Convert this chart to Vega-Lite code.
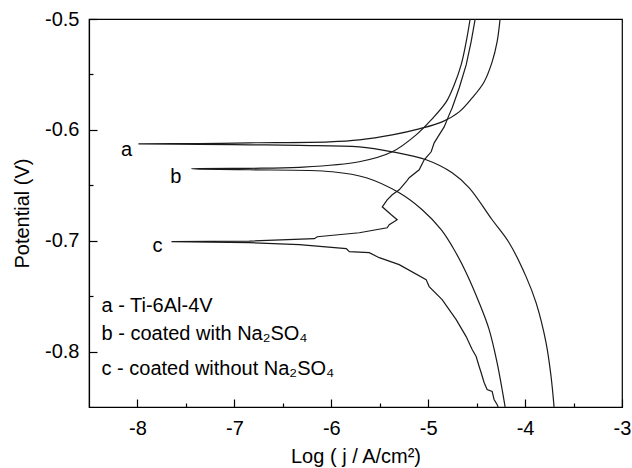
{
  "$schema": "https://vega.github.io/schema/vega-lite/v6.json",
  "width": 533,
  "height": 388,
  "autosize": {"type": "none"},
  "padding": {"left": 89, "top": 19, "right": 10, "bottom": 61},
  "background": "white",
  "config": {
    "view": {"stroke": "black", "strokeWidth": 1.2},
    "font": "Liberation Sans",
    "axis": {
      "domainColor": "black",
      "domainWidth": 1.2,
      "tickColor": "black",
      "tickWidth": 1.2,
      "labelColor": "black",
      "labelFont": "Liberation Sans",
      "labelFontSize": 20,
      "titleFont": "Liberation Sans",
      "titleFontSize": 20,
      "titleFontWeight": "normal",
      "titleColor": "black",
      "grid": false,
      "labelFlush": false,
      "labelOverlap": false
    }
  },
  "datasets": {
    "ab": [
      {"s": "a", "i": 1, "x": -3.701, "y": -0.85},
      {"s": "a", "i": 2, "x": -3.732, "y": -0.8225},
      {"s": "a", "i": 3, "x": -3.784, "y": -0.7919},
      {"s": "a", "i": 4, "x": -3.887, "y": -0.7559},
      {"s": "a", "i": 5, "x": -3.99, "y": -0.7324},
      {"s": "a", "i": 6, "x": -4.165, "y": -0.7018},
      {"s": "a", "i": 7, "x": -4.34, "y": -0.6811},
      {"s": "a", "i": 8, "x": -4.577, "y": -0.6523},
      {"s": "a", "i": 9, "x": -4.753, "y": -0.6387},
      {"s": "a", "i": 10, "x": -5.021, "y": -0.627},
      {"s": "a", "i": 11, "x": -5.371, "y": -0.6198},
      {"s": "a", "i": 12, "x": -5.711, "y": -0.6153},
      {"s": "a", "i": 13, "x": -6.33, "y": -0.614},
      {"s": "a", "i": 14, "x": -6.845, "y": -0.6135},
      {"s": "a", "i": 15, "x": -7.361, "y": -0.6131},
      {"s": "a", "i": 16, "x": -7.99, "y": -0.6126},
      {"s": "a", "i": 17, "x": -7.361, "y": -0.6124},
      {"s": "a", "i": 18, "x": -6.845, "y": -0.6117},
      {"s": "a", "i": 19, "x": -6.021, "y": -0.6108},
      {"s": "a", "i": 20, "x": -5.711, "y": -0.609},
      {"s": "a", "i": 21, "x": -5.371, "y": -0.6045},
      {"s": "a", "i": 22, "x": -5.093, "y": -0.5991},
      {"s": "a", "i": 23, "x": -4.856, "y": -0.5928},
      {"s": "a", "i": 24, "x": -4.68, "y": -0.5838},
      {"s": "a", "i": 25, "x": -4.546, "y": -0.5712},
      {"s": "a", "i": 26, "x": -4.423, "y": -0.5568},
      {"s": "a", "i": 27, "x": -4.34, "y": -0.5387},
      {"s": "a", "i": 28, "x": -4.289, "y": -0.5207},
      {"s": "a", "i": 29, "x": -4.258, "y": -0.5},
      {"s": "b", "i": 1, "x": -4.206, "y": -0.85},
      {"s": "b", "i": 2, "x": -4.237, "y": -0.8342},
      {"s": "b", "i": 3, "x": -4.289, "y": -0.8099},
      {"s": "b", "i": 4, "x": -4.371, "y": -0.7802},
      {"s": "b", "i": 5, "x": -4.474, "y": -0.7559},
      {"s": "b", "i": 6, "x": -4.608, "y": -0.7288},
      {"s": "b", "i": 7, "x": -4.732, "y": -0.7081},
      {"s": "b", "i": 8, "x": -4.866, "y": -0.6901},
      {"s": "b", "i": 9, "x": -5.062, "y": -0.6721},
      {"s": "b", "i": 10, "x": -5.299, "y": -0.6568},
      {"s": "b", "i": 11, "x": -5.639, "y": -0.6432},
      {"s": "b", "i": 12, "x": -5.99, "y": -0.6378},
      {"s": "b", "i": 13, "x": -6.845, "y": -0.636},
      {"s": "b", "i": 14, "x": -7.36, "y": -0.6354},
      {"s": "b", "i": 15, "x": -7.443, "y": -0.6351},
      {"s": "b", "i": 16, "x": -7.36, "y": -0.6349},
      {"s": "b", "i": 17, "x": -6.845, "y": -0.6347},
      {"s": "b", "i": 18, "x": -6.33, "y": -0.6338},
      {"s": "b", "i": 19, "x": -5.711, "y": -0.6288},
      {"s": "b", "i": 20, "x": -5.371, "y": -0.6198},
      {"s": "b", "i": 21, "x": -5.124, "y": -0.6045},
      {"s": "b", "i": 22, "x": -4.969, "y": -0.591},
      {"s": "b", "i": 23, "x": -4.814, "y": -0.5748},
      {"s": "b", "i": 24, "x": -4.732, "y": -0.5595},
      {"s": "b", "i": 25, "x": -4.66, "y": -0.5414},
      {"s": "b", "i": 26, "x": -4.608, "y": -0.5207},
      {"s": "b", "i": 27, "x": -4.567, "y": -0.5}
    ],
    "c": [
      {"s": "c", "i": 1, "x": -4.278, "y": -0.85},
      {"s": "c", "i": 2, "x": -4.289, "y": -0.8477},
      {"s": "c", "i": 3, "x": -4.32, "y": -0.8432},
      {"s": "c", "i": 4, "x": -4.34, "y": -0.836},
      {"s": "c", "i": 5, "x": -4.392, "y": -0.8342},
      {"s": "c", "i": 6, "x": -4.423, "y": -0.8279},
      {"s": "c", "i": 7, "x": -4.454, "y": -0.8189},
      {"s": "c", "i": 8, "x": -4.474, "y": -0.8135},
      {"s": "c", "i": 9, "x": -4.505, "y": -0.8045},
      {"s": "c", "i": 10, "x": -4.546, "y": -0.7982},
      {"s": "c", "i": 11, "x": -4.608, "y": -0.7865},
      {"s": "c", "i": 12, "x": -4.711, "y": -0.7712},
      {"s": "c", "i": 13, "x": -4.856, "y": -0.7532},
      {"s": "c", "i": 14, "x": -4.99, "y": -0.7414},
      {"s": "c", "i": 15, "x": -5.021, "y": -0.7351},
      {"s": "c", "i": 16, "x": -5.299, "y": -0.7216},
      {"s": "c", "i": 17, "x": -5.505, "y": -0.7153},
      {"s": "c", "i": 18, "x": -5.608, "y": -0.7108},
      {"s": "c", "i": 19, "x": -5.814, "y": -0.7099},
      {"s": "c", "i": 20, "x": -5.845, "y": -0.7072},
      {"s": "c", "i": 21, "x": -6.33, "y": -0.7036},
      {"s": "c", "i": 22, "x": -6.845, "y": -0.7018},
      {"s": "c", "i": 23, "x": -7.649, "y": -0.7009},
      {"s": "c", "i": 24, "x": -6.845, "y": -0.7003},
      {"s": "c", "i": 25, "x": -6.175, "y": -0.6982},
      {"s": "c", "i": 26, "x": -6.144, "y": -0.6964},
      {"s": "c", "i": 27, "x": -5.711, "y": -0.6928},
      {"s": "c", "i": 28, "x": -5.423, "y": -0.6883},
      {"s": "c", "i": 29, "x": -5.402, "y": -0.6856},
      {"s": "c", "i": 30, "x": -5.32, "y": -0.6811},
      {"s": "c", "i": 31, "x": -5.381, "y": -0.6766},
      {"s": "c", "i": 32, "x": -5.474, "y": -0.6694},
      {"s": "c", "i": 33, "x": -5.423, "y": -0.6631},
      {"s": "c", "i": 34, "x": -5.371, "y": -0.6586},
      {"s": "c", "i": 35, "x": -5.299, "y": -0.6541},
      {"s": "c", "i": 36, "x": -5.227, "y": -0.6468},
      {"s": "c", "i": 37, "x": -5.196, "y": -0.6432},
      {"s": "c", "i": 38, "x": -5.093, "y": -0.636},
      {"s": "c", "i": 39, "x": -5.041, "y": -0.627},
      {"s": "c", "i": 40, "x": -4.969, "y": -0.6198},
      {"s": "c", "i": 41, "x": -4.938, "y": -0.6117},
      {"s": "c", "i": 42, "x": -4.887, "y": -0.6045},
      {"s": "c", "i": 43, "x": -4.835, "y": -0.5973},
      {"s": "c", "i": 44, "x": -4.784, "y": -0.5865},
      {"s": "c", "i": 45, "x": -4.753, "y": -0.5802},
      {"s": "c", "i": 46, "x": -4.68, "y": -0.5622},
      {"s": "c", "i": 47, "x": -4.608, "y": -0.5414},
      {"s": "c", "i": 48, "x": -4.557, "y": -0.5207},
      {"s": "c", "i": 49, "x": -4.515, "y": -0.5}
    ],
    "tags": [
      {"t": "a", "x": -8.113, "y": -0.6234},
      {"t": "b", "x": -7.603, "y": -0.6477},
      {"t": "c", "x": -7.794, "y": -0.7099}
    ],
    "notes": [
      {"t": "a -  Ti-6Al-4V", "x": -8.371, "y": -0.764},
      {"t": "b - coated with Na₂SO₄", "x": -8.371, "y": -0.790},
      {"t": "c - coated without Na₂SO₄", "x": -8.371, "y": -0.8207}
    ]
  },
  "layer": [
    {
      "data": {"name": "ab"},
      "mark": {"type": "line", "interpolate": "catmull-rom", "color": "#1a1a1a", "strokeWidth": 1.2, "clip": true},
      "encoding": {
        "x": {
          "field": "x", "type": "quantitative",
          "scale": {"domain": [-8.5, -3], "nice": false, "zero": false},
          "axis": {
            "title": "Log ( j / A/cm²)",
            "values": [-8, -7.5, -7, -6.5, -6, -5.5, -5, -4.5, -4, -3.5, -3],
            "tickSize": {"condition": {"test": "abs(datum.value - round(datum.value)) > 0.25", "value": -4}, "value": -8},
            "labelExpr": "abs(datum.value - round(datum.value)) > 0.25 ? '' : toString(datum.value)",
            "labelPadding": 19,
            "titlePadding": 4
          }
        },
        "y": {
          "field": "y", "type": "quantitative",
          "scale": {"domain": [-0.85, -0.5], "nice": false, "zero": false},
          "axis": {
            "title": "Potential (V)",
            "values": [-0.8, -0.75, -0.7, -0.65, -0.6, -0.55, -0.5],
            "tickSize": {"condition": {"test": "abs(datum.value*10 - round(datum.value*10)) > 0.25", "value": -4}, "value": -8},
            "labelExpr": "abs(datum.value*10 - round(datum.value*10)) > 0.25 ? '' : toString(datum.value)",
            "labelPadding": 18,
            "titlePadding": 12
          }
        },
        "detail": {"field": "s"},
        "order": {"field": "i", "type": "quantitative"}
      }
    },
    {
      "data": {"name": "c"},
      "mark": {"type": "line", "color": "#1a1a1a", "strokeWidth": 1.2, "clip": true},
      "encoding": {
        "x": {"field": "x", "type": "quantitative"},
        "y": {"field": "y", "type": "quantitative"},
        "order": {"field": "i", "type": "quantitative"}
      }
    },
    {
      "data": {"name": "tags"},
      "mark": {"type": "text", "align": "center", "baseline": "alphabetic", "fontSize": 20, "color": "black", "font": "Liberation Sans"},
      "encoding": {
        "x": {"field": "x", "type": "quantitative"},
        "y": {"field": "y", "type": "quantitative"},
        "text": {"field": "t"}
      }
    },
    {
      "data": {"name": "notes"},
      "mark": {"type": "text", "align": "left", "baseline": "alphabetic", "fontSize": 20, "color": "black", "font": "Liberation Sans"},
      "encoding": {
        "x": {"field": "x", "type": "quantitative"},
        "y": {"field": "y", "type": "quantitative"},
        "text": {"field": "t"}
      }
    }
  ]
}
